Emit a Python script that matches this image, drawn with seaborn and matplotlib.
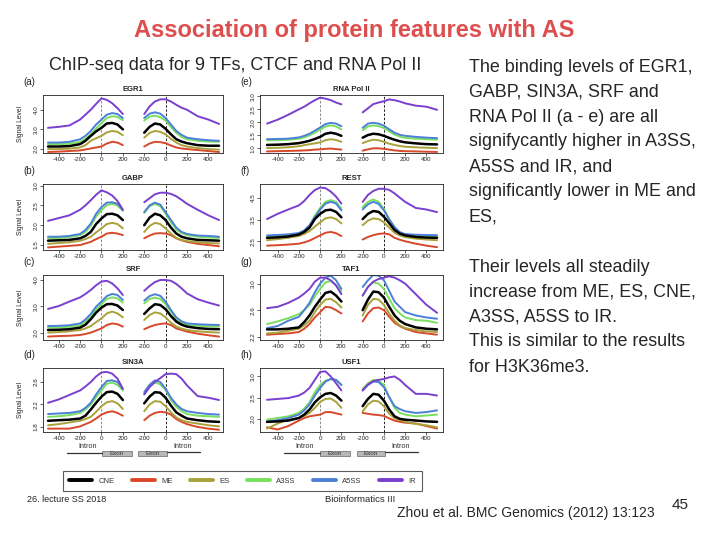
import numpy as np
import pandas as pd
import matplotlib
matplotlib.use('Agg')
import matplotlib.pyplot as plt
import seaborn as sns
from matplotlib import font_manager
from matplotlib.lines import Line2D
from matplotlib.patches import Rectangle

sns.set_theme(style='white')
avail = {f.name for f in font_manager.fontManager.ttflist}
SANS = 'Liberation Sans' if 'Liberation Sans' in avail else 'DejaVu Sans'
NARROW = 'Liberation Sans Narrow' if 'Liberation Sans Narrow' in avail else SANS
plt.rcParams['font.family'] = [SANS, 'DejaVu Sans']

# ---------------- data ----------------
LEFT_POS = [-500, -400, -300, -200, -150, -100, -50, 0, 50, 100, 150, 200]
RIGHT_POS = [-200, -150, -100, -50, 0, 50, 100, 150, 200, 300, 400, 500]
SERIES = ['CNE', 'ME', 'ES', 'A3SS', 'A5SS', 'IR']
COLORS = {'CNE': '#000000', 'ME': '#d8482a', 'ES': '#a9a23a',
          'A3SS': '#78e05c', 'A5SS': '#4d7fd8', 'IR': '#7a3fcf'}
XTICK_LEFT = [-400, -200, 0, 200]
XTICK_RIGHT = [-200, 0, 200, 400]

# each row: 12 values on LEFT_POS followed by 12 values on RIGHT_POS, in SERIES order
EGR1 = [
    [2.13, 2.13, 2.15, 2.25, 2.42, 2.67, 2.9, 3.08, 3.3, 3.33, 3.25, 3.0,
     2.83, 3.13, 3.3, 3.25, 3.03, 2.75, 2.5, 2.38, 2.3, 2.2, 2.17, 2.17],
    [1.85, 1.87, 1.9, 1.93, 1.98, 2.03, 2.08, 2.13, 2.28, 2.37, 2.33, 2.2,
     2.13, 2.28, 2.37, 2.35, 2.3, 2.18, 2.08, 2.03, 2.0, 1.95, 1.9, 1.85],
    [2.0, 2.0, 2.02, 2.08, 2.2, 2.42, 2.55, 2.67, 2.85, 2.92, 2.88, 2.7,
     2.58, 2.82, 2.92, 2.88, 2.75, 2.52, 2.33, 2.2, 2.13, 2.05, 2.0, 1.97],
    [2.25, 2.25, 2.27, 2.37, 2.52, 2.75, 3.05, 3.32, 3.58, 3.67, 3.63, 3.47,
     3.45, 3.65, 3.7, 3.62, 3.45, 3.12, 2.82, 2.62, 2.5, 2.42, 2.38, 2.37],
    [2.33, 2.33, 2.37, 2.5, 2.67, 2.92, 3.25, 3.5, 3.75, 3.83, 3.78, 3.58,
     3.58, 3.8, 3.87, 3.8, 3.58, 3.25, 2.92, 2.72, 2.58, 2.5, 2.45, 2.42],
    [3.08, 3.13, 3.2, 3.5, 3.75, 4.0, 4.3, 4.58, 4.5, 4.33, 4.08, 3.78,
     3.78, 4.17, 4.42, 4.53, 4.53, 4.42, 4.25, 4.1, 4.0, 3.67, 3.5, 3.28],
]
RNAPOL2 = [
    [1.13, 1.14, 1.16, 1.2, 1.24, 1.29, 1.36, 1.44, 1.56, 1.6, 1.56, 1.48,
     1.41, 1.51, 1.56, 1.54, 1.48, 1.4, 1.33, 1.27, 1.23, 1.19, 1.16, 1.15],
    [0.88, 0.89, 0.9, 0.91, 0.92, 0.93, 0.95, 0.96, 0.98, 0.99, 0.97, 0.95,
     0.91, 0.96, 1.0, 1.0, 0.98, 0.95, 0.92, 0.9, 0.89, 0.88, 0.87, 0.86],
    [1.01, 1.02, 1.04, 1.08, 1.12, 1.16, 1.19, 1.23, 1.31, 1.35, 1.32, 1.25,
     1.2, 1.28, 1.33, 1.31, 1.25, 1.18, 1.13, 1.09, 1.06, 1.04, 1.02, 1.01],
    [1.31, 1.31, 1.33, 1.37, 1.42, 1.5, 1.6, 1.72, 1.84, 1.88, 1.84, 1.73,
     1.7, 1.84, 1.88, 1.85, 1.78, 1.65, 1.53, 1.45, 1.4, 1.37, 1.35, 1.33],
    [1.35, 1.36, 1.37, 1.42, 1.48, 1.56, 1.68, 1.8, 1.93, 1.98, 1.95, 1.85,
     1.79, 1.95, 1.98, 1.95, 1.87, 1.73, 1.6, 1.52, 1.48, 1.44, 1.41, 1.39],
    [1.95, 2.1, 2.29, 2.5, 2.6, 2.73, 2.85, 2.95, 2.91, 2.85, 2.76, 2.69,
     2.38, 2.54, 2.7, 2.76, 2.81, 2.88, 2.85, 2.8, 2.73, 2.64, 2.6, 2.48],
]
GABP = [
    [1.61, 1.62, 1.63, 1.67, 1.73, 1.83, 2.03, 2.17, 2.28, 2.29, 2.25, 2.13,
     2.0, 2.19, 2.29, 2.25, 2.13, 1.94, 1.79, 1.71, 1.67, 1.63, 1.62, 1.61],
    [1.44, 1.46, 1.48, 1.5, 1.54, 1.58, 1.65, 1.71, 1.79, 1.81, 1.79, 1.75,
     1.67, 1.74, 1.79, 1.8, 1.79, 1.75, 1.67, 1.62, 1.58, 1.53, 1.5, 1.47],
    [1.53, 1.55, 1.57, 1.61, 1.65, 1.71, 1.82, 1.92, 2.03, 2.06, 2.03, 1.92,
     1.83, 1.98, 2.06, 2.03, 1.92, 1.79, 1.68, 1.63, 1.6, 1.57, 1.55, 1.54],
    [1.67, 1.68, 1.7, 1.75, 1.83, 1.99, 2.22, 2.38, 2.51, 2.54, 2.5, 2.36,
     2.31, 2.48, 2.54, 2.48, 2.29, 2.08, 1.89, 1.8, 1.75, 1.71, 1.69, 1.68],
    [1.71, 1.71, 1.73, 1.78, 1.88, 2.04, 2.29, 2.46, 2.57, 2.58, 2.54, 2.39,
     2.33, 2.5, 2.57, 2.52, 2.33, 2.13, 1.94, 1.83, 1.78, 1.74, 1.73, 1.71],
    [2.11, 2.18, 2.25, 2.39, 2.5, 2.63, 2.77, 2.88, 2.83, 2.75, 2.61, 2.39,
     2.58, 2.68, 2.78, 2.82, 2.82, 2.79, 2.73, 2.64, 2.54, 2.39, 2.25, 2.13],
]
SRF = [
    [2.1, 2.11, 2.13, 2.19, 2.3, 2.51, 2.76, 2.95, 3.08, 3.09, 3.03, 2.86,
     2.71, 2.92, 3.08, 3.05, 2.89, 2.63, 2.42, 2.3, 2.23, 2.17, 2.14, 2.13],
    [1.85, 1.87, 1.88, 1.91, 1.95, 2.0, 2.08, 2.16, 2.29, 2.35, 2.32, 2.23,
     2.13, 2.22, 2.29, 2.33, 2.35, 2.29, 2.16, 2.1, 2.04, 1.96, 1.9, 1.85],
    [2.0, 2.02, 2.05, 2.1, 2.16, 2.25, 2.4, 2.54, 2.73, 2.8, 2.73, 2.58,
     2.48, 2.67, 2.77, 2.73, 2.58, 2.38, 2.23, 2.15, 2.1, 2.05, 2.02, 2.0],
    [2.19, 2.2, 2.22, 2.28, 2.42, 2.6, 2.88, 3.08, 3.28, 3.34, 3.3, 3.14,
     3.11, 3.28, 3.33, 3.28, 3.08, 2.8, 2.5, 2.37, 2.3, 2.26, 2.24, 2.23],
    [2.25, 2.26, 2.28, 2.35, 2.5, 2.71, 2.99, 3.18, 3.39, 3.47, 3.43, 3.24,
     3.22, 3.39, 3.46, 3.4, 3.18, 2.86, 2.58, 2.43, 2.35, 2.32, 2.3, 2.29],
    [2.9, 3.01, 3.18, 3.34, 3.47, 3.62, 3.8, 3.94, 3.97, 3.87, 3.68, 3.43,
     3.59, 3.77, 3.92, 4.0, 4.0, 3.97, 3.85, 3.68, 3.49, 3.27, 3.14, 3.03],
]
REST = [
    [2.66, 2.68, 2.72, 2.81, 2.93, 3.13, 3.52, 3.76, 3.92, 3.95, 3.85, 3.6,
     3.52, 3.76, 3.89, 3.85, 3.63, 3.33, 3.02, 2.85, 2.77, 2.7, 2.67, 2.66],
    [2.3, 2.32, 2.35, 2.39, 2.45, 2.53, 2.65, 2.77, 2.89, 2.93, 2.87, 2.74,
     2.58, 2.7, 2.78, 2.84, 2.86, 2.82, 2.66, 2.57, 2.5, 2.39, 2.3, 2.23],
    [2.55, 2.6, 2.66, 2.74, 2.84, 2.97, 3.17, 3.37, 3.55, 3.6, 3.52, 3.32,
     3.24, 3.45, 3.55, 3.52, 3.37, 3.13, 2.89, 2.77, 2.69, 2.62, 2.58, 2.55],
    [2.74, 2.76, 2.79, 2.85, 2.98, 3.21, 3.68, 4.03, 4.31, 4.39, 4.31, 3.99,
     4.07, 4.31, 4.42, 4.31, 3.99, 3.52, 3.13, 2.89, 2.81, 2.77, 2.75, 2.74],
    [2.77, 2.79, 2.82, 2.88, 3.0, 3.24, 3.6, 3.96, 4.23, 4.31, 4.23, 3.92,
     3.96, 4.2, 4.31, 4.22, 3.92, 3.5, 3.15, 2.92, 2.83, 2.8, 2.79, 2.78],
    [3.52, 3.76, 3.96, 4.15, 4.35, 4.63, 4.85, 4.97, 4.94, 4.78, 4.55, 4.23,
     4.31, 4.63, 4.81, 4.91, 4.91, 4.86, 4.7, 4.5, 4.31, 4.03, 3.96, 3.84],
]
TAF1 = [
    [2.31, 2.31, 2.32, 2.34, 2.42, 2.52, 2.65, 2.76, 2.86, 2.88, 2.82, 2.73,
     2.6, 2.76, 2.88, 2.87, 2.79, 2.65, 2.52, 2.44, 2.39, 2.34, 2.32, 2.31],
    [2.23, 2.24, 2.25, 2.27, 2.32, 2.39, 2.49, 2.57, 2.65, 2.64, 2.6, 2.55,
     2.43, 2.55, 2.63, 2.64, 2.6, 2.5, 2.41, 2.36, 2.32, 2.27, 2.25, 2.23],
    [2.25, 2.26, 2.29, 2.32, 2.37, 2.44, 2.57, 2.68, 2.76, 2.77, 2.72, 2.64,
     2.52, 2.68, 2.77, 2.76, 2.68, 2.55, 2.44, 2.37, 2.33, 2.3, 2.28, 2.27],
    [2.39, 2.43, 2.48, 2.54, 2.6, 2.68, 2.81, 2.92, 3.02, 3.04, 2.98, 2.88,
     2.82, 2.95, 3.02, 3.0, 2.92, 2.77, 2.63, 2.55, 2.49, 2.45, 2.44, 2.41],
    [2.33, 2.36, 2.44, 2.5, 2.6, 2.71, 2.87, 3.0, 3.09, 3.12, 3.05, 2.92,
     2.95, 3.05, 3.13, 3.12, 3.05, 2.89, 2.73, 2.65, 2.57, 2.52, 2.49, 2.47],
    [2.63, 2.65, 2.71, 2.79, 2.85, 2.92, 3.03, 3.09, 3.09, 3.05, 2.97, 2.84,
     2.82, 2.95, 3.03, 3.07, 3.09, 3.11, 3.09, 3.05, 3.0, 2.84, 2.68, 2.56],
]
SIN3A = [
    [1.91, 1.92, 1.93, 1.95, 2.0, 2.11, 2.23, 2.34, 2.42, 2.43, 2.39, 2.28,
     2.22, 2.34, 2.42, 2.41, 2.32, 2.18, 2.06, 2.0, 1.95, 1.92, 1.9, 1.89],
    [1.77, 1.77, 1.77, 1.81, 1.85, 1.89, 1.95, 2.02, 2.06, 2.08, 2.05, 2.0,
     1.92, 2.0, 2.05, 2.07, 2.06, 2.02, 1.94, 1.89, 1.85, 1.8, 1.77, 1.75],
    [1.83, 1.85, 1.88, 1.91, 1.94, 1.98, 2.07, 2.17, 2.24, 2.26, 2.22, 2.12,
     2.08, 2.2, 2.26, 2.25, 2.17, 2.06, 1.97, 1.92, 1.89, 1.86, 1.83, 1.81],
    [1.98, 1.99, 2.01, 2.05, 2.11, 2.2, 2.33, 2.45, 2.57, 2.59, 2.55, 2.45,
     2.38, 2.53, 2.59, 2.56, 2.46, 2.28, 2.16, 2.08, 2.03, 2.0, 1.99, 1.98],
    [2.03, 2.04, 2.05, 2.08, 2.14, 2.23, 2.38, 2.51, 2.62, 2.63, 2.6, 2.48,
     2.42, 2.55, 2.63, 2.6, 2.48, 2.32, 2.2, 2.12, 2.08, 2.05, 2.03, 2.02],
    [2.23, 2.29, 2.37, 2.45, 2.52, 2.6, 2.7, 2.77, 2.78, 2.75, 2.66, 2.48,
     2.38, 2.51, 2.6, 2.67, 2.74, 2.75, 2.74, 2.66, 2.54, 2.35, 2.32, 2.28],
]
USF1 = [
    [1.93, 1.94, 1.96, 2.02, 2.1, 2.22, 2.39, 2.51, 2.59, 2.61, 2.55, 2.43,
     2.3, 2.47, 2.59, 2.57, 2.43, 2.22, 2.06, 2.0, 1.98, 1.96, 1.94, 1.93],
    [1.8, 1.75, 1.83, 1.96, 2.02, 2.06, 2.08, 2.1, 2.16, 2.16, 2.13, 2.1,
     2.14, 2.12, 2.1, 2.09, 2.07, 2.01, 1.96, 1.93, 1.91, 1.89, 1.83, 1.77],
    [1.77, 1.89, 1.98, 2.02, 2.07, 2.14, 2.26, 2.4, 2.47, 2.48, 2.4, 2.26,
     2.18, 2.34, 2.43, 2.41, 2.3, 2.12, 2.02, 1.97, 1.93, 1.88, 1.85, 1.8],
    [1.98, 2.02, 2.06, 2.14, 2.24, 2.39, 2.63, 2.8, 2.9, 2.94, 2.92, 2.8,
     2.71, 2.84, 2.92, 2.9, 2.8, 2.51, 2.26, 2.14, 2.1, 2.06, 2.08, 2.1],
    [1.93, 1.97, 2.02, 2.1, 2.2, 2.34, 2.55, 2.73, 2.88, 2.94, 2.92, 2.8,
     2.67, 2.8, 2.88, 2.87, 2.75, 2.51, 2.3, 2.23, 2.18, 2.14, 2.16, 2.2],
    [2.45, 2.47, 2.49, 2.55, 2.62, 2.73, 2.92, 3.11, 3.12, 3.0, 2.84, 2.67,
     2.67, 2.81, 2.89, 2.92, 2.94, 2.98, 3.0, 2.92, 2.8, 2.59, 2.59, 2.55],
]

PANEL_TITLES = ['EGR1', 'GABP', 'SRF', 'SIN3A', 'RNA Pol II', 'REST', 'TAF1', 'USF1']
PANEL_LETTERS = ['(a)', '(b)', '(c)', '(d)', '(e)', '(f)', '(g)', '(h)']
PANEL_DATA = [EGR1, GABP, SRF, SIN3A, RNAPOL2, REST, TAF1, USF1]
PANEL_YTICKS = [[2.0, 3.0, 4.0], [1.5, 2.0, 2.5, 3.0], [2.0, 3.0, 4.0], [1.8, 2.2, 2.6],
                [1.0, 1.5, 2.0, 2.5, 3.0], [2.5, 3.5, 4.5], [2.2, 2.6, 3.0], [2.0, 2.5, 3.0]]
PANEL_YLIM = [(1.8, 4.75), (1.375, 3.04), (1.72, 4.19), (1.71, 2.85),
              (0.82, 3.05), (2.1, 5.13), (2.15, 3.13), (1.69, 3.2)]

RIGHT_TEXT_1 = ['The binding levels of EGR1,', 'GABP, SIN3A, SRF and',
                'RNA Pol II (a - e) are all', 'signifycantly higher in A3SS,',
                'A5SS and IR, and', 'significantly lower in ME and', 'ES,']
RIGHT_TEXT_2 = ['Their levels all steadily', 'increase from ME, ES, CNE,',
                'A3SS, A5SS to IR.', 'This is similar to the results', 'for H3K36me3.']

# ---------------- layout ----------------
W, H = 720, 540
fig = plt.figure(figsize=(7.2, 5.4), dpi=100)
fig.patch.set_facecolor('white')

LEFT_OFF, RIGHT_OFF = 500, 1100
COLS = [(43, 223, (-47, 1637)), (260, 443, (-66, 1656))]
ROWS = [(95, 153), (184, 250), (275, 340), (368, 432)]


def px_axes(x0, y0, x1, y1):
    return fig.add_axes([x0 / W, 1 - y1 / H, (x1 - x0) / W, (y1 - y0) / H])


for i, (title, letter, data, yt, yl) in enumerate(zip(PANEL_TITLES, PANEL_LETTERS, PANEL_DATA,
                                                      PANEL_YTICKS, PANEL_YLIM)):
    col, row = divmod(i, 4)
    x0, x1, xl = COLS[col]
    y0, y1 = ROWS[row]
    ax = px_axes(x0, y0, x1, y1)
    ax.set_facecolor('white')
    n = len(LEFT_POS)
    draw_order = ['ME', 'ES', 'A3SS', 'A5SS', 'IR', 'CNE']
    for name in draw_order:
        vals = data[SERIES.index(name)]
        df = pd.DataFrame({
            'x': [p + LEFT_OFF for p in LEFT_POS] + [p + RIGHT_OFF for p in RIGHT_POS],
            'value': vals,
            'segment': ['L'] * n + ['R'] * len(RIGHT_POS),
        })
        sns.lineplot(data=df, x='x', y='value', units='segment', estimator=None,
                     color=COLORS[name], lw=1.8 if name == 'CNE' else 1.4,
                     sort=False, legend=False, ax=ax)
    ax.axvline(LEFT_OFF, color='#777777', lw=0.6, ls=(0, (3, 2)), zorder=0)
    ax.axvline(RIGHT_OFF, color='black', lw=0.6, ls=(0, (3, 2)), zorder=0)
    ax.set_xlim(*xl)
    ax.set_ylim(*yl)
    ax.set_xticks([p + LEFT_OFF for p in XTICK_LEFT] + [p + RIGHT_OFF for p in XTICK_RIGHT])
    ax.set_xticklabels([f'{p}' for p in XTICK_LEFT + XTICK_RIGHT])
    ax.set_yticks(yt)
    ax.set_yticklabels([f'{v:.1f}' for v in yt], rotation=90, va='center')
    ax.tick_params(axis='both', length=2, width=0.5, labelsize=4.5, pad=1,
                   colors='#222222', direction='out', bottom=True, left=True)
    for s in ax.spines.values():
        s.set_color('#222222')
        s.set_linewidth(0.6)
    ax.set_xlabel('')
    ax.set_ylabel('Signal Level' if col == 0 else '', fontsize=4.8, labelpad=7)
    ax.set_title(title, fontsize=5.5, fontweight='bold', pad=3)
    fig.text((x0 - 20) / W, 1 - (y0 - 13) / H, letter, fontsize=7, ha='left', va='center')

# overlay for decorations
ov = fig.add_axes([0, 0, 1, 1])
ov.set_xlim(0, W)
ov.set_ylim(H, 0)
ov.axis('off')
ov.patch.set_alpha(0)

ov.text(354, 31, 'Association of protein features with AS', color='#dd4f4f',
        fontsize=17, fontweight='bold', ha='center', va='center')
ov.text(235, 65, 'ChIP-seq data for 9 TFs, CTCF and RNA Pol II', fontsize=13,
        ha='center', va='center')
for k, line in enumerate(RIGHT_TEXT_1):
    ov.text(469, 67 + 25 * k, line, fontsize=12.9, ha='left', va='center')
for k, line in enumerate(RIGHT_TEXT_2):
    ov.text(469, 267 + 25 * k, line, fontsize=12.9, ha='left', va='center')


def gene_diagram(xs):
    a, b, c, d, e, f = xs
    ov.plot([a, b], [453, 453], color='#333333', lw=0.9)
    ov.text((a + b) / 2 + 3, 446, 'Intron', fontsize=5.2, ha='center', va='center', color='#333333')
    for (p, q) in [(b, c), (d, e)]:
        ov.add_patch(Rectangle((p, 450.5), q - p, 5.5, facecolor='#b8b8b8',
                               edgecolor='#666666', lw=0.5))
        ov.text((p + q) / 2, 453.3, 'Exon', fontsize=4.5, ha='center', va='center', color='#333333')
    ov.plot([e, f], [452, 452], color='#333333', lw=0.9)
    ov.text((e + f) / 2 - 1, 447, 'Intron', fontsize=5.2, ha='center', va='center', color='#333333')


gene_diagram([67, 102, 132, 138, 167, 200])
gene_diagram([284, 320, 350, 357, 385, 418])

handles = [Line2D([0], [0], color=COLORS[s], lw=2.8) for s in SERIES]
leg = fig.legend(handles, SERIES, loc='center', bbox_to_anchor=(242.5 / W, 1 - 481 / H),
                 ncol=6, fontsize=5.5, frameon=True, handlelength=3.0, handletextpad=0.8,
                 columnspacing=2.3, borderpad=0.8, fancybox=False)
leg.get_frame().set_edgecolor('#333333')
leg.get_frame().set_linewidth(0.8)
for t in leg.get_texts():
    t.set_color('#333333')

ov.text(27, 500, '26. lecture SS 2018', fontsize=6.5, ha='left', va='center', family=NARROW)
ov.text(325, 500, 'Bioinformatics III', fontsize=6.8, ha='left', va='center', family=NARROW)
ov.text(397, 513, 'Zhou et al. BMC Genomics (2012) 13:123', fontsize=10, ha='left',
        va='center', family=NARROW)
ov.text(672, 505, '45', fontsize=11, ha='left', va='center', family=NARROW)

fig.savefig('out.png', dpi=100, facecolor='white')
